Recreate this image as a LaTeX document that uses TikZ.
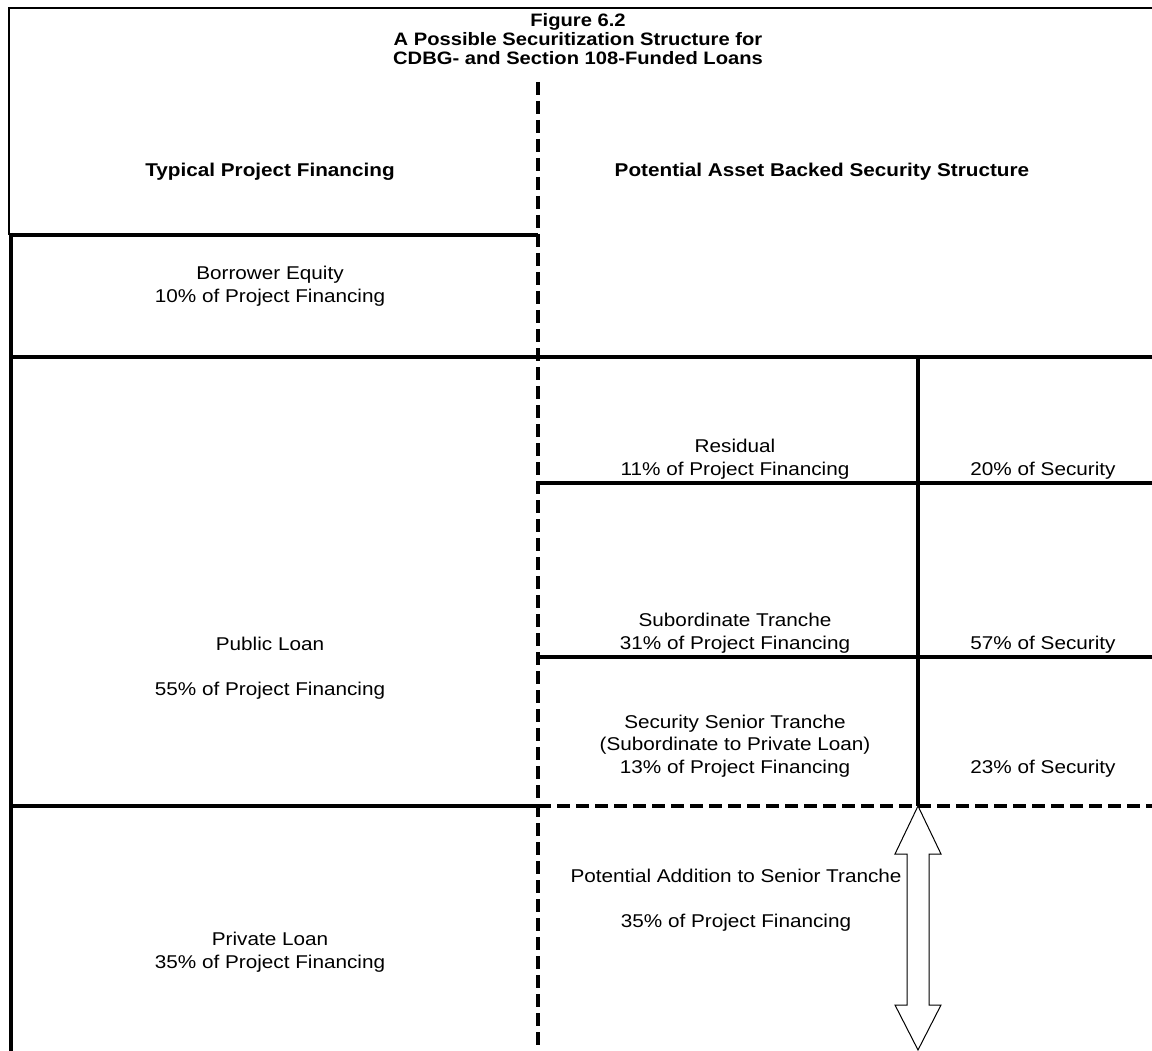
\documentclass[tikz,border=0pt]{standalone}
\usepackage{fontspec}
\setmainfont{Liberation Sans}[FakeStretch=1.12]
\begin{document}
\begin{tikzpicture}[x=1pt,y=-1pt,
  thickln/.style={line width=4.5pt},
  thinln/.style={line width=1.5pt},
  dashln/.style={line width=4pt, dash pattern=on 13pt off 6pt},
  txt/.style={font=\fontsize{18.5}{22.5}\selectfont, align=center, inner sep=0pt},
  hdr/.style={font=\bfseries\fontsize{18.5}{22}\selectfont, align=center, inner sep=0pt},
  ttl/.style={font=\bfseries\fontsize{18}{19}\selectfont, align=center, inner sep=0pt},
  arrowshape/.style={draw=black, fill=white, line width=1pt},
]
\useasboundingbox (0,0) rectangle (1152,1051);
% frame
\draw[thinln] (9,235) -- (9,8) -- (1152,8);
\draw[thickln] (11,233) -- (11,1051);
\draw[thickln] (9,235) -- (538,235);
\draw[thickln] (9,357) -- (1152,357);
\draw[thickln] (918,357) -- (918,806);
\draw[thickln] (538,483) -- (1152,483);
\draw[thickln] (538,657) -- (1152,657);
\draw[thickln] (9,806) -- (538,806);
\draw[dashln] (538,806) -- (1152,806);
\draw[dashln] (538,82) -- (538,1051);
% double arrow
\draw[arrowshape] (918,806) -- (941,854) -- (929,854) -- (929,1005) -- (941,1005) -- (918,1050)
  -- (895,1005) -- (907,1005) -- (907,854) -- (895,854) -- cycle;
% texts
\node[ttl] (title) at (578,39) {Figure 6.2\\A Possible Securitization Structure for\\CDBG- and Section 108-Funded Loans};
\node[hdr] (typ) at (270,172) {Typical Project Financing};
\node[hdr] (pabs) at (822,172) {Potential Asset Backed Security Structure};
\node[txt] (equity) at (270,286) {Borrower Equity\\10\% of Project Financing};
\node[txt] (public) at (270,668) {Public Loan\\[22.5pt]55\% of Project Financing};
\node[txt] (private) at (270,952) {Private Loan\\35\% of Project Financing};
\node[txt] (resid) at (735,459) {Residual\\11\% of Project Financing};
\node[txt] (subord) at (735,633) {Subordinate Tranche\\31\% of Project Financing};
\node[txt] (senior) at (735,746) {Security Senior Tranche\\(Subordinate to Private Loan)\\13\% of Project Financing};
\node[txt] (s20) at (1043,471) {20\% of Security};
\node[txt] (s57) at (1043,645) {57\% of Security};
\node[txt] (s23) at (1043,769) {23\% of Security};
\node[txt] (addition) at (736,900) {Potential Addition to Senior Tranche\\[22.5pt]35\% of Project Financing};
\end{tikzpicture}
\end{document}
